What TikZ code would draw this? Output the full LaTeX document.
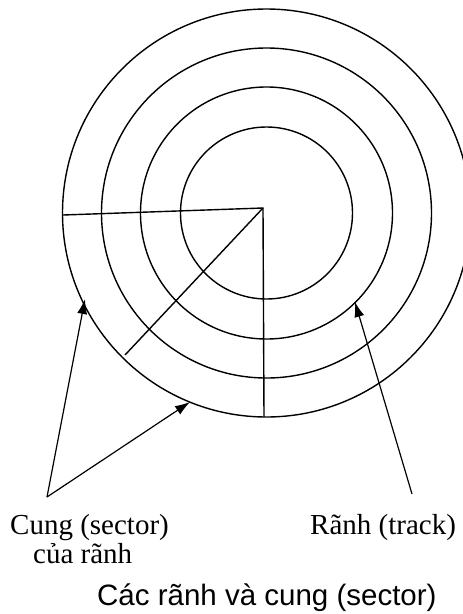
\documentclass[tikz,border=0pt]{standalone}
\usepackage{fontspec}
\setmainfont{Liberation Serif}
\newfontfamily\capfont{Liberation Sans}
\usetikzlibrary{arrows.meta}
\begin{document}
\begin{tikzpicture}[x=1pt,y=-1pt,
  ring/.style={line width=1.4pt},
  spoke/.style={line width=1.4pt},
  ptr/.style={line width=1.2pt,-{Latex[length=15pt,width=10pt]}},
  lbl/.style={inner sep=0pt,anchor=base west,font=\fontsize{29}{33}\selectfont},
  captiontext/.style={inner sep=0pt,anchor=base west,font=\capfont\fontsize{29.5}{33}\selectfont}]
\useasboundingbox (0,0) rectangle (463,614);
% centre of the tracks and corner of the sector
\coordinate (O) at (266.5,213);
\coordinate (P) at (263,208);
% tracks
\foreach \r in {86,126,165,204} \draw[ring] (O) circle[radius=\r pt];
% sector boundaries
\coordinate (hL) at (63,215);
\coordinate (vB) at (264,417);
\coordinate (dE) at (125,355);
\draw[spoke] (hL) -- (P) -- (vB);
\draw[spoke] (P) -- (dE);
% labels
\node[lbl] (cung) at (10,534) {Cung (sector)};
\node[lbl] (cua) at (33,563) {của rãnh};
\node[lbl] (ranh) at (310,534) {Rãnh (track)};
\node[captiontext] (title) at (97,605) {Các rãnh và cung (sector)};
% pointers
\coordinate (tL) at (47,497);
\coordinate (tR) at (412,494);
\coordinate (a1) at (85,299);
\coordinate (a2) at (190,402);
\coordinate (a3) at (355,302);
\draw[ptr] (tL) -- (a1);
\draw[ptr] (tL) -- (a2);
\draw[ptr] (tR) -- (a3);
\end{tikzpicture}
\end{document}
